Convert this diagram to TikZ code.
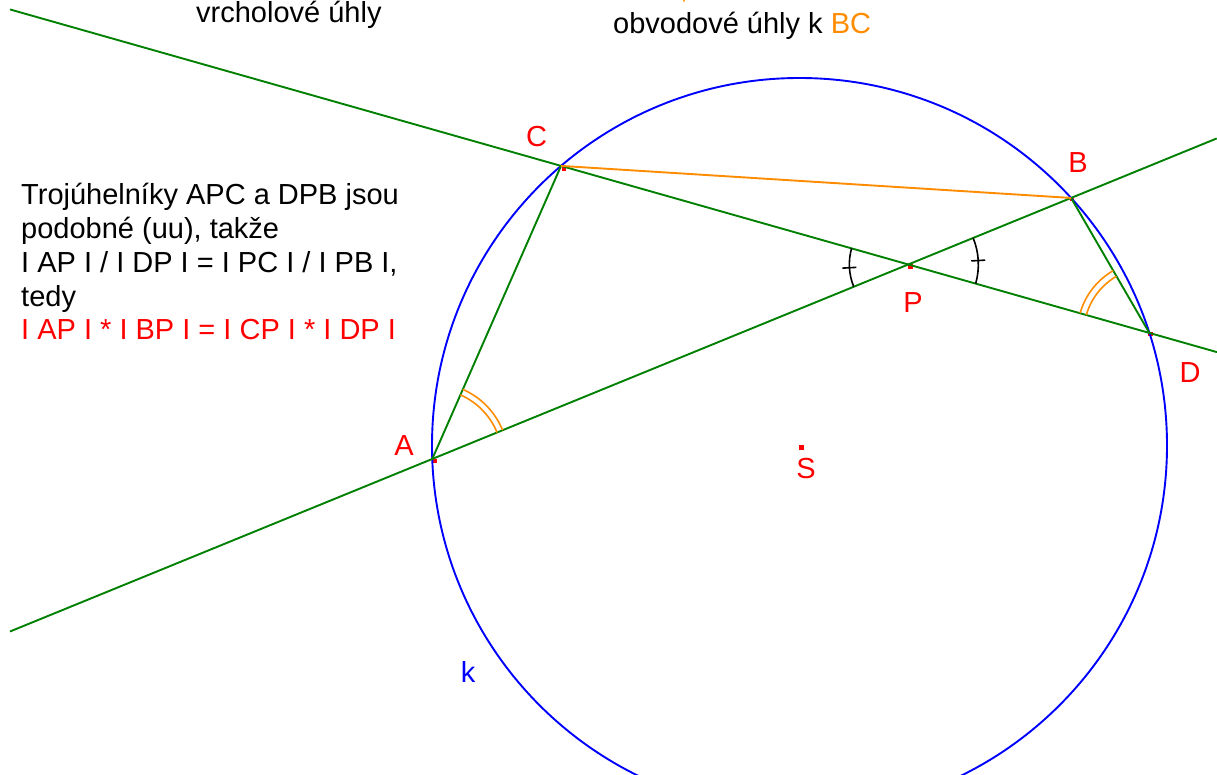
\documentclass[tikz,border=0pt]{standalone}
\usepackage{fontspec}
\setmainfont{Liberation Sans}
\usetikzlibrary{positioning}
\usetikzlibrary{calc}
\usetikzlibrary{angles}
\definecolor{linegreen}{RGB}{0,128,0}
\definecolor{arcorange}{RGB}{255,140,0}

\begin{document}
\begin{tikzpicture}[
        x=1pt, y=1pt,
        % Standard style for lines, arcs and labels
        secant/.style={draw=linegreen, line width=1.9pt},
        kruh/.style={draw=blue, line width=1.9pt},
        obvod/.style={draw=arcorange, line width=1.6pt, angle radius=#1},
        vrchol/.style={draw=black, line width=1.6pt, angle radius=#1},
        ptmark/.style={fill=red, rectangle, minimum size=4.5pt, inner sep=0pt},
        ptlabel/.style={text=red, font=\fontsize{29}{34}\selectfont, inner sep=0pt, anchor=base},
        note/.style={font=\fontsize{29}{34}\selectfont, inner sep=0pt, anchor=base west}
        ]
        \useasboundingbox (0,0) rectangle (1217,774);
        \clip (0,0) rectangle (1217,774);

        % circle k and its points
        \coordinate (S) at (799.5,328.5);
        \path (S) ++(182.1:367.5) coordinate (A);
        \path (S) ++(130.46:367.5) coordinate (C);
        \path (S) ++(42.35:367.5) coordinate (B);
        \path (S) ++(17.84:367.5) coordinate (D);
        \coordinate (P) at (intersection of A--B and C--D);

        \node [ptmark] (mA) at ($(A)+(2,-2)$) {};
        \node [ptmark] (mB) at ($(B)+(1,-1)$) {};
        \node [ptmark] (mC) at ($(C)+(3,-3)$) {};
        \node [ptmark] (mD) at ($(D)+(1,-1)$) {};
        \node [ptmark] (mP) at ($(P)+(2,-2)$) {};
        \node [ptmark, minimum size=5pt] (mS) at ($(S)+(2,-2)$) {};

        \draw [kruh] (S) circle [radius=367.5];

        \coordinate (ab_left) at ($(A)!-0.661!(B)$);
        \coordinate (ab_right) at ($(A)!1.228!(B)$);
        \coordinate (cd_left) at ($(C)!-0.9366!(D)$);
        \coordinate (cd_right) at ($(C)!1.115!(D)$);
        \draw [secant] (ab_left) -- (ab_right);
        \draw [secant] (cd_left) -- (cd_right);
        \draw [secant] (A) -- (C);
        \draw [secant] (B) -- (D);
        \draw [draw=arcorange, line width=1.9pt] (C) -- (B);

        % inscribed angles
        \pic [obvod=70pt] {angle=B--A--C};
        \pic [obvod=76pt] {angle=B--A--C};
        \pic [obvod=65.5pt] {angle=B--D--C};
        \pic [obvod=72pt] {angle=B--D--C};

        % vertical angles at P
        \pic [vrchol=59pt] {angle=C--P--A};
        \pic [vrchol=70pt] {angle=D--P--B};
        \draw [line width=1.6pt] ([shift={(183.2:52)}]P) -- ([shift={(183.2:66)}]P);
        \draw [line width=1.6pt] ([shift={(3.2:63)}]P) -- ([shift={(3.2:77)}]P);

        % point labels
        \node [ptlabel] (lA) at (404,318) {A};
        \node [ptlabel] (lC) at (536.5,627) {C};
        \node [ptlabel] (lB) at (1078,601) {B};
        \node [ptlabel] (lD) at (1190,391) {D};
        \node [ptlabel] (lP) at (913,461) {P};
        \node [ptlabel] (lS) at (806,295) {S};
        \node [ptlabel, text=blue] (lk) at (468,92) {k};

        % captions
        \node [note] (vrcholove) at (196,751.3) {vrcholové úhly};
        \node [note, text=arcorange] (cut) at (680,775) {,};
        \node [note] (obvodove) at (613,740) {obvodové úhly k \textcolor{arcorange}{BC}};

        \node [note] (line1) at (21,569) {Trojúhelníky APC a DPB jsou};
        \node [note] (line2) at (21,535.3) {podobné (uu), takže};
        \node [note] (line3) at (21,501.6) {I AP I / I DP I = I PC I / I PB I,};
        \node [note] (line4) at (21,467.9) {tedy};
        \node [note, text=red] (line5) at (21,434.2) {I AP I * I BP I = I CP I * I DP I};
\end{tikzpicture}
\end{document}
